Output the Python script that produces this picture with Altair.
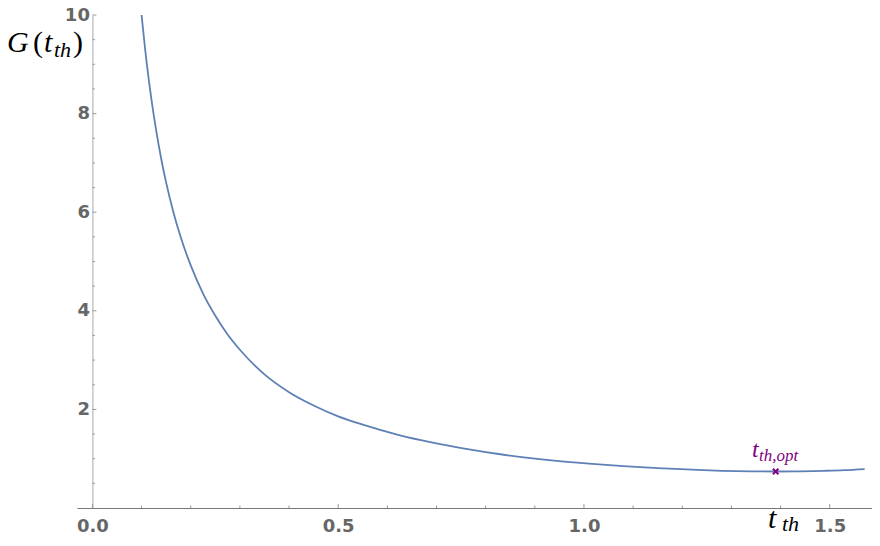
import altair as alt
import pandas as pd

# ---- data ----
t_th = [0.100, 0.110, 0.120, 0.130, 0.140, 0.150, 0.165, 0.180, 0.200, 0.225,
        0.250, 0.275, 0.300, 0.350, 0.400, 0.450, 0.500, 0.550, 0.620, 0.690,
        0.760, 0.830, 0.900, 0.960, 1.010, 1.080, 1.150, 1.220, 1.280, 1.340,
        1.390, 1.440, 1.490, 1.530, 1.571]
G_vals = [10.00, 9.06, 8.29, 7.64, 7.08, 6.60, 5.99, 5.48, 4.92, 4.35,
          3.90, 3.52, 3.21, 2.71, 2.35, 2.08, 1.86, 1.69, 1.49, 1.33,
          1.20, 1.09, 1.00, 0.94, 0.90, 0.85, 0.81, 0.777, 0.755, 0.743,
          0.740, 0.744, 0.755, 0.768, 0.790]
t_opt = [1.39]
G_opt = [0.74]

x_major = [0.0, 0.5, 1.0, 1.5]
x_minor = [0.1, 0.2, 0.3, 0.4, 0.6, 0.7, 0.8, 0.9, 1.1, 1.2, 1.3, 1.4]
y_major = [2, 4, 6, 8, 10]
y_minor = [0.5, 1, 1.5, 2.5, 3, 3.5, 4.5, 5, 5.5, 6.5, 7, 7.5, 8.5, 9, 9.5]

x_domain = [-0.0314, 1.586]
y_domain = [0, 10]

ylab_parts = ["G", "(", "t", "th", ")"]
xlab_parts = ["t", "th"]
opt_parts = ["t", "th,opt"]

# ---- layout / style ----
W, H = 795, 493
x0 = W * (0 - x_domain[0]) / (x_domain[1] - x_domain[0])  # pixel of t=0

LINE = "#5E81B5"
PURPLE = "#800080"
TICK = "#999999"
SERIF = "Liberation Serif"

xs = alt.Scale(domain=x_domain, nice=False, zero=False)
ys = alt.Scale(domain=y_domain, nice=False, zero=False)

xaxis = alt.Axis(values=x_major, format=".1f", title=None, ticks=False, grid=False,
                 domainColor="#777777", domainWidth=1,
                 labelFont="DejaVu Sans", labelFontWeight="bold", labelFontSize=18,
                 labelColor="#666666", labelPadding=9, labelFlush=False,
                 labelOverlap=False)
yaxis = alt.Axis(values=y_major, format="d", title=None, ticks=False, grid=False,
                 offset=-x0, domainColor="#a8a8a8", domainWidth=1,
                 labelFont="DejaVu Sans", labelFontWeight="bold", labelFontSize=18,
                 labelColor="#666666", labelPadding=3, labelBaseline="middle",
                 labelOverlap=False, labelFlush=False)

X = lambda: alt.X("t:Q", scale=xs, axis=xaxis)
Y = lambda: alt.Y("G:Q", scale=ys, axis=yaxis)

curve = alt.Chart(pd.DataFrame({"t": t_th, "G": G_vals})).mark_line(
    color=LINE, strokeWidth=1.8, interpolate="monotone", clip=True
).encode(x=X(), y=Y())

xt_major = alt.Chart(pd.DataFrame({"t": x_major})).mark_rule(color=TICK, strokeWidth=1).encode(
    x=X(), y=alt.value(H), y2=alt.value(H - 4))
xt_minor = alt.Chart(pd.DataFrame({"t": x_minor})).mark_rule(color=TICK, strokeWidth=1, clip=True).encode(
    x=X(), y=alt.value(H), y2=alt.value(H - 2.5))
yt_major = alt.Chart(pd.DataFrame({"G": y_major})).mark_rule(color=TICK, strokeWidth=1).encode(
    y=Y(), x=alt.value(x0), x2=alt.value(x0 + 4))
yt_minor = alt.Chart(pd.DataFrame({"G": y_minor})).mark_rule(color=TICK, strokeWidth=1).encode(
    y=Y(), x=alt.value(x0), x2=alt.value(x0 + 2.5))

marker = alt.Chart(pd.DataFrame({"t": t_opt, "G": G_opt})).mark_point(
    shape="M-1,-1L1,1M-1,1L1,-1", size=30, filled=False, color=PURPLE, strokeWidth=2, opacity=1
).encode(x=X(), y=Y())

one = pd.DataFrame({"a": [0]})


def txt(s, px, py, size, color="black", style="italic"):
    return alt.Chart(one).mark_text(
        text=s, font=SERIF, fontSize=size, fontStyle=style, color=color,
        align="left", baseline="alphabetic"
    ).encode(x=alt.value(px), y=alt.value(py))


labels = [
    txt(ylab_parts[0], -70, 37, 30),
    txt(ylab_parts[1], -44, 37, 30, style="normal"),
    txt(ylab_parts[2], -33, 37, 30),
    txt(ylab_parts[3], -23, 42, 22),
    txt(ylab_parts[4], -4, 37, 30, style="normal"),
    txt(xlab_parts[0], 691, 513, 30),
    txt(xlab_parts[1], 705, 516, 22),
    txt(opt_parts[0], 675, 442, 24, color=PURPLE),
    txt(opt_parts[1], 682, 446, 17, color=PURPLE),
]

chart = alt.layer(curve, xt_major, xt_minor, yt_major, yt_minor, marker, *labels).properties(
    width=W, height=H,
    autosize=alt.AutoSizeParams(type="none"),
    padding={"left": 69, "top": 7, "right": 0, "bottom": 30},
    background="white",
).configure_view(stroke=None)

chart.save("out.html", embed_options={"renderer": "svg", "actions": False})
